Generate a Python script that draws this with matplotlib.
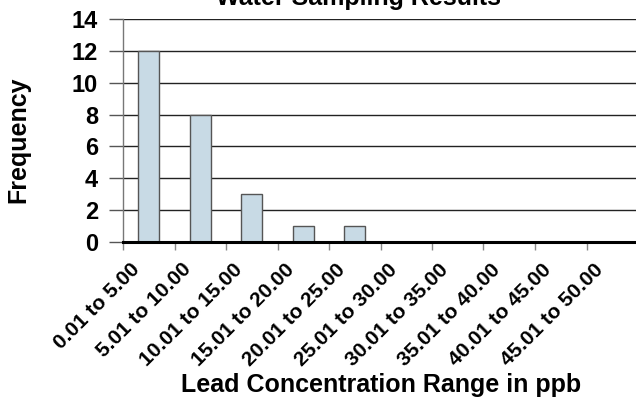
import matplotlib
matplotlib.use("Agg")
import matplotlib.pyplot as plt
import matplotlib.transforms as mtransforms
import numpy as np

plt.rcParams['font.family'] = ['Liberation Sans', 'DejaVu Sans']
plt.rcParams['font.weight'] = 'bold'

# data
ranges = ["0.01 to 5.00", "5.01 to 10.00", "10.01 to 15.00", "15.01 to 20.00",
          "20.01 to 25.00", "25.01 to 30.00", "30.01 to 35.00", "35.01 to 40.00",
          "40.01 to 45.00", "45.01 to 50.00"]
counts = [12, 8, 3, 1, 1, 0, 0, 0, 0, 0]
yticks = [0, 2, 4, 6, 8, 10, 12, 14]

fig = plt.figure(figsize=(6.36, 4.05), dpi=100)
ax = fig.add_axes([123/636, 1 - 241.7/405, 515/636, (241.7 - 19.3)/405])

x = np.arange(len(ranges))
ax.bar(x, counts, width=0.41, color='#c8dae5', edgecolor='#555555', linewidth=1.0, zorder=3)

ax.set_xlim(-0.5, len(ranges) - 0.5)
ax.set_ylim(0, 14)
ax.set_yticks(yticks)
ax.yaxis.grid(True, color='#222222', linewidth=1.0, zorder=1)
ax.set_axisbelow(True)

# category boundaries as tick marks, labels at centres
ax.set_xticks(np.arange(len(ranges) + 1) - 0.5, minor=True)
ax.tick_params(axis='x', which='minor', length=6, color='#888888', width=1)
ax.set_xticks(x)
ax.set_xticklabels(ranges, rotation=45, ha='right', va='top', rotation_mode='anchor',
                   fontsize=15)
ax.tick_params(axis='x', which='major', length=0, pad=13)
shift = mtransforms.ScaledTranslation(-19/100, 0, fig.dpi_scale_trans)
for lab in ax.get_xticklabels():
    lab.set_transform(lab.get_transform() + shift)
ax.tick_params(axis='y', length=10, color='#555555', width=1, labelsize=17, pad=8)

for s in ['top', 'right']:
    ax.spines[s].set_visible(False)
ax.spines['left'].set_color('#777777')
ax.spines['left'].set_linewidth(1)
ax.spines['bottom'].set_color('black')
ax.spines['bottom'].set_linewidth(2.2)
ax.spines['bottom'].set_zorder(4)

fig.text(18/636, 1 - 140/405, "Frequency", fontsize=18, fontweight='bold',
         rotation=90, ha='center', va='center')
fig.text(381/636, 1 - 385/405, "Lead Concentration Range in ppb", fontsize=18,
         fontweight='bold', ha='center', va='center')
fig.text(359/636, 1 - 5/405, "Water Sampling Results", fontsize=18,
         fontweight='bold', ha='center', va='baseline')

fig.savefig("out.png", dpi=100)
